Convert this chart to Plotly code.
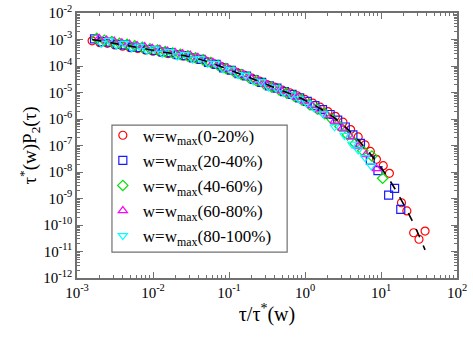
import plotly.graph_objects as go

# ---- data ----
red_x = [1.58e-3, 2.0e-3, 2.51e-3, 3.16e-3, 3.98e-3, 5.01e-3, 6.31e-3, 7.94e-3, 1.0e-2, 1.26e-2,
         1.58e-2, 2.0e-2, 2.51e-2, 3.16e-2, 3.98e-2, 5.01e-2, 6.31e-2, 7.94e-2, 0.1, 0.126,
         0.158, 0.2, 0.251, 0.316, 0.398, 0.501, 0.631, 0.794, 1.0, 1.26,
         1.58, 2.0, 2.51, 3.16, 3.98, 5.01, 6.17, 7.24, 8.71, 10.7,
         12.9, 18.6, 21.9, 26.9, 31.6, 38.0]
red_y = [8.9e-4, 7.6e-4, 7.2e-4, 6.2e-4, 5.6e-4, 4.9e-4, 4.6e-4, 4.0e-4, 3.6e-4, 3.3e-4,
         2.95e-4, 2.7e-4, 2.4e-4, 2.1e-4, 1.8e-4, 1.5e-4, 1.2e-4, 9.5e-5, 7.2e-5, 5.8e-5,
         4.5e-5, 3.5e-5, 2.7e-5, 2.0e-5, 1.6e-5, 1.23e-5, 9.8e-6, 7.4e-6, 5.5e-6, 4.0e-6,
         2.8e-6, 1.9e-6, 1.26e-6, 7.6e-7, 4.0e-7, 2.1e-7, 1.05e-7, 6.0e-8, 3.0e-8, 1.74e-8,
         8.9e-9, 6.9e-10, 3.4e-10, 5.1e-11, 2.9e-11, 5.9e-11]

blue_x = [1.70e-3, 2.14e-3, 2.69e-3, 3.39e-3, 4.27e-3, 5.37e-3, 6.76e-3, 8.51e-3, 1.07e-2, 1.35e-2,
          1.70e-2, 2.14e-2, 2.69e-2, 3.39e-2, 4.27e-2, 5.37e-2, 6.76e-2, 8.51e-2, 0.107, 0.135,
          0.170, 0.214, 0.269, 0.339, 0.427, 0.537, 0.676, 0.851, 1.07, 1.35,
          1.70, 2.14, 2.69, 3.39, 4.27, 5.37, 7.24, 9.12, 12.6, 15.1, 18.2]
blue_y = [1.05e-3, 8.3e-4, 7.9e-4, 6.6e-4, 6.3e-4, 5.2e-4, 5.0e-4, 4.2e-4, 3.9e-4, 3.4e-4,
          3.2e-4, 2.7e-4, 2.45e-4, 2.04e-4, 1.78e-4, 1.38e-4, 1.15e-4, 8.5e-5, 6.9e-5, 5.1e-5,
          4.2e-5, 3.1e-5, 2.4e-5, 1.78e-5, 1.45e-5, 1.07e-5, 8.5e-6, 6.3e-6, 4.6e-6, 3.2e-6,
          2.24e-6, 1.48e-6, 9.1e-7, 5.0e-7, 2.5e-7, 1.2e-7, 2.8e-8, 1.12e-8, 1.35e-9, 2.4e-9, 3.9e-10]

green_x = [1.82e-3, 2.29e-3, 2.88e-3, 3.63e-3, 4.57e-3, 5.75e-3, 7.24e-3, 9.12e-3, 1.15e-2, 1.45e-2,
           1.82e-2, 2.29e-2, 2.88e-2, 3.63e-2, 4.57e-2, 5.75e-2, 7.24e-2, 9.12e-2, 0.115, 0.145,
           0.182, 0.229, 0.288, 0.363, 0.457, 0.575, 0.724, 0.912, 1.15, 1.45,
           1.82, 2.29, 2.88, 3.63, 4.57, 5.75, 7.59, 10.5]
green_y = [1.10e-3, 9.3e-4, 8.3e-4, 7.2e-4, 6.6e-4, 5.8e-4, 5.1e-4, 4.5e-4, 4.0e-4, 3.5e-4,
           3.1e-4, 2.75e-4, 2.4e-4, 2.04e-4, 1.7e-4, 1.35e-4, 1.05e-4, 8.1e-5, 6.2e-5, 4.8e-5,
           3.7e-5, 2.8e-5, 2.14e-5, 1.62e-5, 1.26e-5, 9.5e-6, 7.2e-6, 5.2e-6, 3.5e-6, 2.4e-6,
           1.58e-6, 9.5e-7, 5.2e-7, 2.5e-7, 1.2e-7, 6.3e-8, 4.0e-8, 5.8e-9]

magenta_x = [1.95e-3, 2.45e-3, 3.09e-3, 3.89e-3, 4.90e-3, 6.17e-3, 7.76e-3, 9.77e-3, 1.23e-2, 1.55e-2,
             1.95e-2, 2.45e-2, 3.09e-2, 3.89e-2, 4.90e-2, 6.17e-2, 7.76e-2, 9.77e-2, 0.123, 0.155,
             0.195, 0.245, 0.309, 0.389, 0.490, 0.617, 0.776, 0.977, 1.23, 1.55,
             1.95, 2.45, 3.09, 3.89, 5.01, 6.31, 8.71]
magenta_y = [1.12e-3, 9.5e-4, 8.7e-4, 7.6e-4, 6.8e-4, 6.0e-4, 5.4e-4, 4.7e-4, 4.3e-4, 3.7e-4,
             3.3e-4, 2.95e-4, 2.6e-4, 2.14e-4, 1.74e-4, 1.35e-4, 1.05e-4, 7.9e-5, 6.2e-5, 4.7e-5,
             3.6e-5, 2.7e-5, 2.04e-5, 1.55e-5, 1.17e-5, 8.9e-6, 6.6e-6, 4.7e-6, 3.2e-6, 2.2e-6,
             1.38e-6, 8.3e-7, 4.5e-7, 2.2e-7, 9.1e-8, 4.5e-8, 1.35e-8]

cyan_x = [2.09e-3, 2.63e-3, 3.31e-3, 4.17e-3, 5.25e-3, 6.61e-3, 8.32e-3, 1.05e-2, 1.32e-2, 1.66e-2,
          2.09e-2, 2.63e-2, 3.31e-2, 4.17e-2, 5.25e-2, 6.61e-2, 8.32e-2, 0.105, 0.132, 0.166,
          0.209, 0.263, 0.331, 0.417, 0.525, 0.661, 0.832, 1.05, 1.32, 1.74,
          2.45, 3.31, 4.17, 5.01, 6.17, 7.41]
cyan_y = [7.2e-4, 9.3e-4, 6.0e-4, 7.2e-4, 4.8e-4, 5.6e-4, 3.8e-4, 4.4e-4, 3.0e-4, 3.5e-4,
          2.4e-4, 2.7e-4, 1.82e-4, 1.9e-4, 1.26e-4, 1.23e-4, 7.8e-5, 7.2e-5, 4.7e-5, 4.4e-5,
          2.75e-5, 2.5e-5, 1.62e-5, 1.48e-5, 9.8e-6, 8.1e-6, 5.8e-6, 4.0e-6, 2.6e-6, 1.58e-6,
          5.1e-7, 2.4e-7, 1.12e-7, 6.8e-8, 3.5e-8, 1.7e-8]

fit_x = [1.58e-3, 3.16e-3, 6.31e-3, 1.26e-2, 2.51e-2, 5.01e-2, 0.1, 0.2, 0.398, 0.794,
         1.58, 3.16, 6.31, 12.6, 25.1, 38.0]
fit_y = [1.0e-3, 7.1e-4, 5.0e-4, 3.5e-4, 2.5e-4, 1.51e-4, 7.2e-5, 3.4e-5, 1.51e-5, 6.9e-6,
         2.5e-6, 6.0e-7, 7.6e-8, 5.6e-9, 1.66e-10, 1.15e-11]

series_names = ["w=w<sub>max</sub>(0-20%)", "w=w<sub>max</sub>(20-40%)", "w=w<sub>max</sub>(40-60%)",
                "w=w<sub>max</sub>(60-80%)", "w=w<sub>max</sub>(80-100%)"]

x_tick_vals = [1e-3, 1e-2, 1e-1, 1e0, 1e1, 1e2]
x_tick_text = ["10<sup>-3</sup>", "10<sup>-2</sup>", "10<sup>-1</sup>", "10<sup>0</sup>",
               "10<sup>1</sup>", "10<sup>2</sup>"]
y_tick_vals = [1e-2, 1e-3, 1e-4, 1e-5, 1e-6, 1e-7, 1e-8, 1e-9, 1e-10, 1e-11, 1e-12]
y_tick_text = ["10<sup>-2</sup>", "10<sup>-3</sup>", "10<sup>-4</sup>", "10<sup>-5</sup>",
               "10<sup>-6</sup>", "10<sup>-7</sup>", "10<sup>-8</sup>", "10<sup>-9</sup>",
               "10<sup>-10</sup>", "10<sup>-11</sup>", "10<sup>-12</sup>"]

# ---- styling ----
colors = ["#ff0000", "#1a1aff", "#00e000", "#ff00ff", "#00ffff"]
symbols = ["circle-open", "square-open", "diamond-open", "triangle-up-open", "triangle-down-open"]
xs = [red_x, blue_x, green_x, magenta_x, cyan_x]
ys = [red_y, blue_y, green_y, magenta_y, cyan_y]

FONT = "Liberation Serif, Times New Roman, serif"
AXC = "#707070"

fig = go.Figure()
for i in range(5):
    fig.add_trace(go.Scatter(
        x=xs[i], y=ys[i], mode="markers", name=series_names[i],
        marker=dict(symbol=symbols[i], size=8, color=colors[i], line=dict(width=1.2, color=colors[i])),
    ))
fig.add_trace(go.Scatter(
    x=fit_x, y=fit_y, mode="lines", showlegend=False,
    line=dict(color="black", width=1.6, dash="dash", shape="spline"),
))

axis_common = dict(
    type="log", showline=True, linecolor=AXC, linewidth=1.5, mirror="ticks",
    ticks="inside", ticklen=6, tickwidth=1, tickcolor=AXC,
    showgrid=False, zeroline=False, automargin=False, ticklabeloverflow="allow",
    tickfont=dict(family=FONT, size=15, color="black"),
    minor=dict(ticks="inside", ticklen=3, tickcolor=AXC, dtick="D1", showgrid=False),
)

fig.update_xaxes(range=[-3, 2], tickvals=x_tick_vals, ticktext=x_tick_text,
                 title=dict(text="τ/τ<sup>*</sup>(w)", font=dict(family=FONT, size=20, color="black"), standoff=2),
                 **axis_common)
fig.update_yaxes(range=[-12, -2], tickvals=y_tick_vals, ticktext=y_tick_text,
                 title=dict(text="τ<sup>*</sup>(w)P<sub>2</sub>(τ)", font=dict(family=FONT, size=19, color="black"), standoff=2),
                 **axis_common)

# legend frame drawn as a rectangle (paper coordinates of the plot area)
fig.add_shape(type="rect", xref="paper", yref="paper", x0=0.092, x1=0.553, y0=0.098, y1=0.577,
              line=dict(color=AXC, width=1.2), fillcolor="white", layer="below")

fig.update_layout(
    width=473, height=338,
    margin=dict(l=77, r=16, t=13, b=60),
    paper_bgcolor="white", plot_bgcolor="white",
    font=dict(family=FONT, size=17, color="black"),
    legend=dict(x=0.068, y=0.605, xanchor="left", yanchor="top",
                borderwidth=0, bgcolor="rgba(0,0,0,0)",
                font=dict(family=FONT, size=17, color="black"),
                itemwidth=30, tracegroupgap=0),
)

fig.write_html("out.html", config={"displayModeBar": False},
               post_script="document.body.style.margin='0';")
